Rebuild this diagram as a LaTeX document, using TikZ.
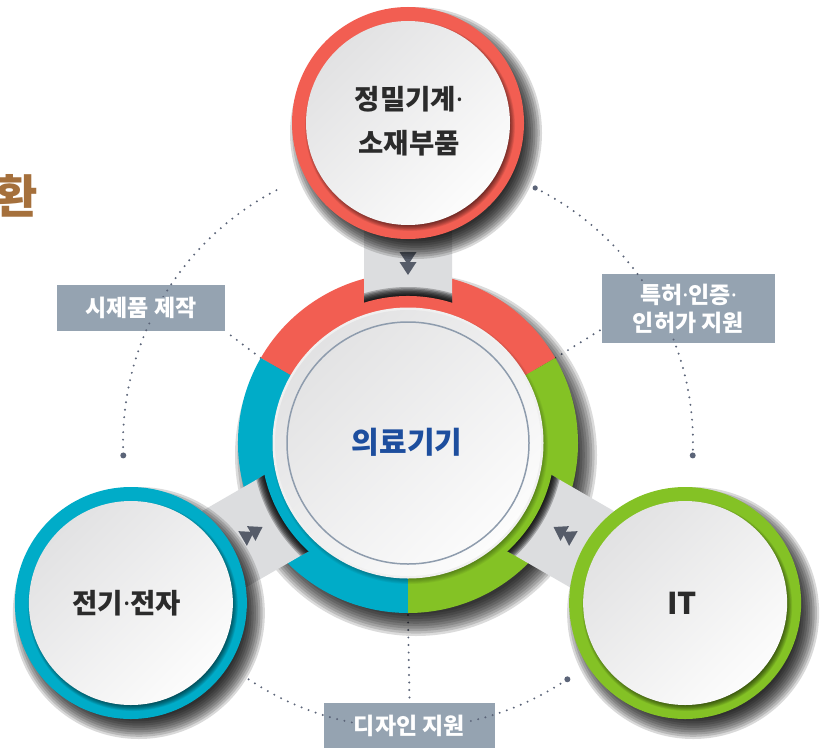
\documentclass[tikz,border=0pt]{standalone}
\usepackage{fontspec}
\setmainfont{Noto Sans CJK KR}
\newfontfamily\latinf{Noto Sans}
\newcommand\mdot{{\latinf\bfseries ·}}
\usetikzlibrary{calc}
\definecolor{cred}{HTML}{F25E52}
\definecolor{cblue}{HTML}{00ACC8}
\definecolor{cgreen}{HTML}{84C225}
\definecolor{lbl}{HTML}{95A3B1}
\definecolor{dotc}{HTML}{5B6478}
\definecolor{arr}{HTML}{565C69}
\definecolor{txt}{HTML}{2B2B2B}
\definecolor{ctxt}{HTML}{1D4E9E}
\definecolor{ttlc}{HTML}{A5703C}
\definecolor{brgA}{HTML}{DCDDDF}
\definecolor{brgB}{HTML}{FAFAFA}
\definecolor{wA}{HTML}{E2E2E3}
\definecolor{wB}{HTML}{FCFCFC}
\definecolor{rimc}{HTML}{8E9CAD}
\newcommand\blurdisk[4]{\foreach \k in {0,...,9}{\fill[black,opacity=#4] #1 circle ({#2+#3-#3*\k/4.5});}}
\begin{document}
\begin{tikzpicture}[x=1pt,y=-1pt,
  dots/.style={draw=dotc, line width=2.2pt, line cap=round, dash pattern=on 0pt off 7.5pt},
  bigdot/.style={fill=dotc},
  lblbox/.style={fill=lbl, text=white, font=\fontsize{23}{28}\selectfont\bfseries, inner sep=0pt, align=center},
  sattext/.style={text=txt, font=\fontsize{27.5}{44}\selectfont\bfseries, align=center, inner sep=0pt},
  whitedisk/.style={top color=wA, bottom color=wB, shading angle=45}]
\useasboundingbox (0,0) rectangle (821,752);
\fill[white] (0,0) rectangle (821,752);

\coordinate (C) at (408,443);
\coordinate (ST) at ($(C)+(-90:320)$);
\coordinate (SL) at ($(C)+(150:320)$);
\coordinate (SR) at ($(C)+(30:320)$);
\coordinate (RL) at ($(C)+(-150:170)$);
\coordinate (RR) at ($(C)+(-30:170)$);
\coordinate (RB) at ($(C)+(90:172)$);

% cut title
\node[anchor=east, inner sep=0pt, text=ttlc, font=\fontsize{46}{46}\selectfont\bfseries] (ttl) at (38,196) {환};

% label boxes (positions used by dotted lines)
\path node[lblbox, minimum width=168pt, minimum height=46pt] (b1) at (141,308) {}
      node[lblbox, minimum width=173pt, minimum height=69pt] (b2) at (688.5,308.5) {}
      node[lblbox, minimum width=171pt, minimum height=45pt] (b3) at (409.5,725.5) {};

% dotted arcs
\draw[dots] (C) ++(-117.5:285) arc[start angle=-117.5, end angle=-182.5, radius=285];
\draw[dots] (C) ++(-63.5:285) arc[start angle=-63.5, end angle=2.5, radius=285];
\draw[dots] (C) ++(-236:285) arc[start angle=-236, end angle=-304, radius=285];
\fill[bigdot] ($(C)+(-182.5:285)$) circle (3);
\fill[bigdot] ($(C)+(2.5:285)$) circle (3);
\fill[bigdot] ($(C)+(-304:285)$) circle (3);
\fill[bigdot] ($(C)+(-63.5:285)$) circle (2.6);
\draw[dots] (RL) -- (b1.south east);
\draw[dots] (RR) -- ([yshift=14pt]b2.south west);
\draw[dots] (RB) -- (b3.north);

% ring shadow and outer ring
\blurdisk{($(C)+(8,12)$)}{170}{11}{0.14}
\fill[cred] (C) -- ++(-30:170) arc[start angle=-30,end angle=-150,radius=170] -- cycle;
\fill[cblue] (C) -- ++(-150:170) arc[start angle=-150,end angle=-270,radius=170] -- cycle;
\fill[cgreen] (C) -- ++(-270:170) arc[start angle=-270,end angle=-390,radius=170] -- cycle;

% bridges
\foreach \t/\a in {-90/90,150/210,30/330}{
  \shade[left color=brgA, middle color=brgB, right color=brgA, shading angle=\a]
    ($(C)+(\t:130)+(\t+90:44)$) -- ($(C)+(\t:232)+(\t+90:44)$) --
    ($(C)+(\t:232)+(\t-90:44)$) -- ($(C)+(\t:130)+(\t-90:44)$) -- cycle;
  \begin{scope}
    \clip ($(C)+(\t:130)+(\t+90:44)$) -- ($(C)+(\t:232)+(\t+90:44)$) --
    ($(C)+(\t:232)+(\t-90:44)$) -- ($(C)+(\t:130)+(\t-90:44)$) -- cycle;
    \blurdisk{(C)}{150}{6}{0.25}
  \end{scope}
  \fill[arr] ($(C)+(\t:178)$) -- ($(C)+(\t:191)+(\t+90:8.5)$) -- ($(C)+(\t:191)+(\t-90:8.5)$) -- cycle;
  \fill[arr] ($(C)+(\t:168)$) -- ($(C)+(\t:181)+(\t+90:8.5)$) -- ($(C)+(\t:181)+(\t-90:8.5)$) -- cycle;
}

% inner coloured disk
\fill[cred] (C) -- ++(-30:147) arc[start angle=-30,end angle=-150,radius=147] -- cycle;
\fill[cblue] (C) -- ++(-150:147) arc[start angle=-150,end angle=-270,radius=147] -- cycle;
\fill[cgreen] (C) -- ++(-270:147) arc[start angle=-270,end angle=-390,radius=147] -- cycle;

% centre white disk
\blurdisk{($(C)+(2,3)$)}{134}{4}{0.05}
\fill[white!88!gray] (C) circle (135.5);
\shade[whitedisk] (C) circle (133);
\draw[rimc, line width=1.5pt] (C) circle (121);
\node[text=ctxt, font=\fontsize{30}{30}\selectfont\bfseries, inner sep=0pt] (ctr) at (407,442) {의료기기};

% satellites
\foreach \p/\c in {ST/cred, SL/cblue, SR/cgreen}{
  \blurdisk{($(\p)+(8,10)$)}{116}{10}{0.15}
  \fill[\c] (\p) circle (116);
  \blurdisk{($(\p)+(2,3)$)}{102}{3}{0.07}
  \shade[whitedisk] (\p) circle (102);
}
\node[sattext] (tT) at ($(ST)+(1,-2)$) {정밀기계\mdot\\소재부품};
\node[sattext] (tL) at ($(SL)+(-4,0)$) {전기\mdot 전자};
\node[sattext, font=\fontsize{30}{30}\selectfont\bfseries] (tR) at ($(SR)+(-3,0)$) {IT};

% label texts
\node[lblbox] (l1) at (b1) {시제품 제작};
\node[lblbox] (l2) at (b2) {특허\mdot 인증\mdot\\인허가 지원};
\node[lblbox] (l3) at (b3) {디자인 지원};
\end{tikzpicture}
\end{document}
